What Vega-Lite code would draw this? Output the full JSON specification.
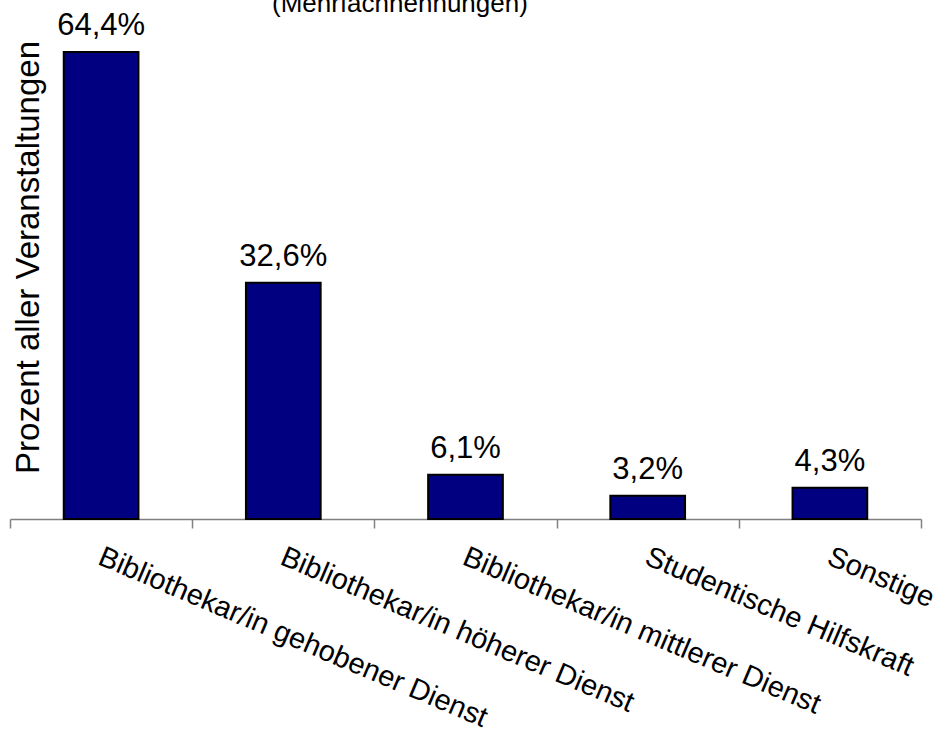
{
  "$schema": "https://vega.github.io/schema/vega-lite/v6.json",
  "width": 911,
  "height": 479,
  "autosize": "none",
  "padding": {"left": 10, "top": 40, "right": 25, "bottom": 214},
  "background": "white",
  "title": {
    "text": "(Mehrfachnennungen)",
    "anchor": "start",
    "frame": "group",
    "dx": 262,
    "offset": -7,
    "fontSize": 26,
    "fontWeight": "normal",
    "color": "black",
    "font": "Liberation Sans"
  },
  "config": {
    "view": {"stroke": null},
    "font": "Liberation Sans",
    "locale": {
      "number": {"decimal": ",", "thousands": ".", "grouping": [3], "currency": ["", " €"]}
    }
  },
  "data": {
    "values": [
      {"category": "Bibliothekar/in gehobener Dienst", "share": 0.644},
      {"category": "Bibliothekar/in höherer Dienst", "share": 0.326},
      {"category": "Bibliothekar/in mittlerer Dienst", "share": 0.061},
      {"category": "Studentische Hilfskraft", "share": 0.032},
      {"category": "Sonstige", "share": 0.043}
    ]
  },
  "encoding": {
    "x": {
      "field": "category",
      "type": "nominal",
      "sort": null,
      "scale": {"paddingInner": 0, "paddingOuter": 0},
      "axis": {
        "title": null,
        "domainColor": "#808080",
        "domainWidth": 1.5,
        "tickColor": "#808080",
        "tickWidth": 1.5,
        "tickSize": 9,
        "tickBand": "extent",
        "labelAngle": 23,
        "labelAlign": "left",
        "labelBaseline": "top",
        "labelFontSize": 29,
        "labelColor": "black",
        "labelPadding": 14,
        "labelOffset": 4,
        "labelLimit": 0,
        "labelOverlap": false
      }
    },
    "y": {
      "field": "share",
      "type": "quantitative",
      "scale": {"domain": [0, 0.6607], "nice": false, "zero": true},
      "axis": {
        "domain": false,
        "ticks": false,
        "labels": false,
        "grid": false,
        "title": "Prozent aller Veranstaltungen",
        "titleFontSize": 33,
        "titleFontWeight": "normal",
        "titleColor": "black",
        "titleAngle": -90,
        "titleX": 28,
        "titleY": 217,
        "titleBaseline": "alphabetic",
        "titleAlign": "center"
      }
    }
  },
  "layer": [
    {"mark": {"type": "bar", "color": "#000080", "stroke": "black", "strokeWidth": 2, "width": {"band": 0.41}}},
    {
      "mark": {"type": "text", "baseline": "alphabetic", "dy": -17, "fontSize": 31, "color": "black"},
      "encoding": {"text": {"field": "share", "type": "quantitative", "format": ".1%"}}
    }
  ]
}
